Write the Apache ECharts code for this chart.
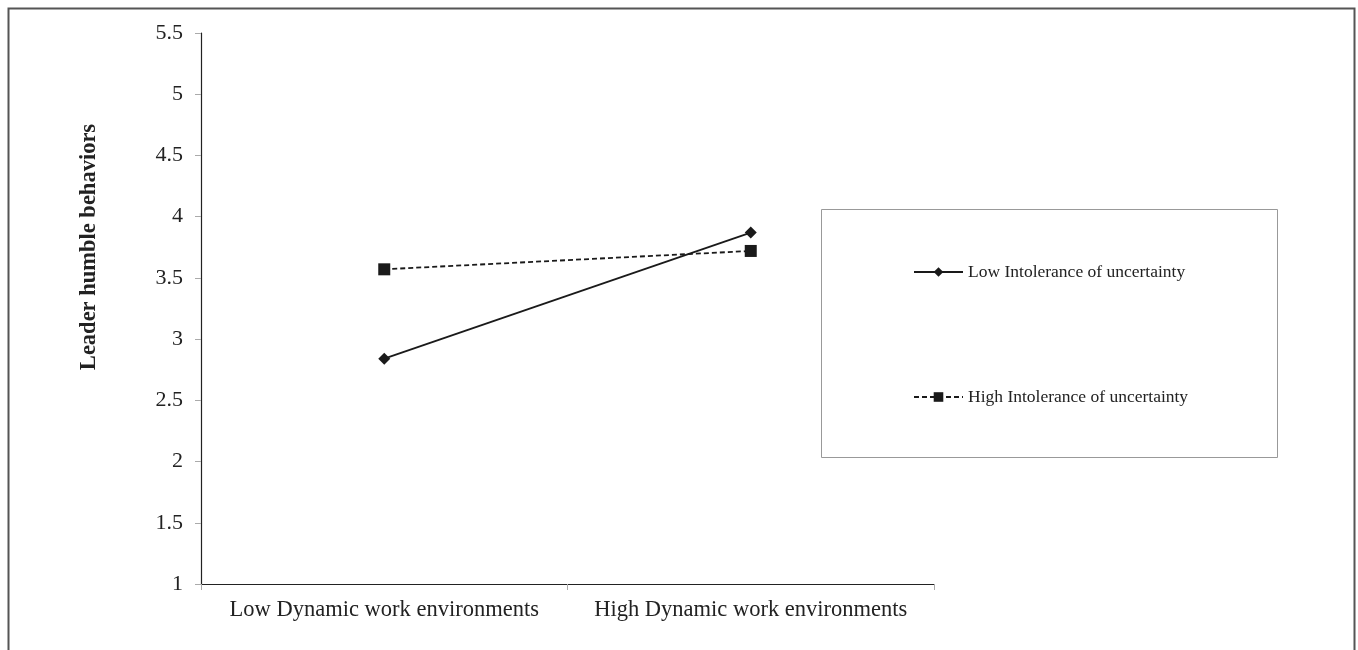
<!DOCTYPE html>
<html>
<head>
<meta charset="utf-8">
<script src="https://cdn.jsdelivr.net/npm/echarts@6/dist/echarts.min.js"></script>
<style>
html,body{margin:0;padding:0;background:#fff;}
#main{width:1358px;height:650px;}
</style>
</head>
<body>
<div id="main"></div>
<script>
const categories = ['Low Dynamic work environments', 'High Dynamic work environments'];
const seriesNames = ['Low Intolerance of uncertainty', 'High Intolerance of uncertainty'];
const lowIU = [2.84, 3.87];
const highIU = [3.57, 3.72];
const yTicks = [1, 1.5, 2, 2.5, 3, 3.5, 4, 4.5, 5, 5.5];
const yTitle = 'Leader humble behaviors';

const font = '"Liberation Serif", "DejaVu Serif", serif';
const chart = echarts.init(document.getElementById('main'));
chart.setOption({
  backgroundColor: '#fff',
  animation: false,
  grid: { left: 201, right: 424, top: 33, bottom: 66, containLabel: false },
  xAxis: {
    type: 'category',
    data: categories,
    boundaryGap: true,
    axisLine: { lineStyle: { color: '#222', width: 1.2 } },
    axisTick: { show: true, length: 6, interval: 0, lineStyle: { color: '#aaa' } },
    axisLabel: { color: '#222', fontFamily: font, fontSize: 22.5, margin: 15, interval: 0, hideOverlap: false },
    splitLine: { show: false }
  },
  yAxis: {
    type: 'value',
    min: 1, max: 5.5, interval: 0.5,
    axisLine: { show: true, lineStyle: { color: '#222', width: 1.2 } },
    axisTick: { show: true, length: 6, lineStyle: { color: '#aaa' } },
    axisLabel: {
      color: '#222', fontFamily: font, fontSize: 22, margin: 18,
      formatter: v => { const t = yTicks.find(x => Math.abs(x - v) < 1e-9); return t === undefined ? '' : String(t); }
    },
    splitLine: { show: false }
  },
  legend: {
    orient: 'vertical',
    left: 913, top: 263, padding: 0,
    itemWidth: 49, itemHeight: 12,
    itemGap: 107,
    textStyle: { color: '#222', fontFamily: font, fontSize: 17.5 },
    data: seriesNames
  },
  graphic: [
    { type: 'rect', shape: { x: 8.5, y: 8.5, width: 1346, height: 700 }, style: { fill: 'none', stroke: '#555', lineWidth: 2 }, silent: true, z: -10 },
    { type: 'rect', shape: { x: 821.5, y: 209.5, width: 456, height: 248 }, style: { fill: 'none', stroke: '#999', lineWidth: 1 }, silent: true },
    { type: 'text', x: 89, y: 247, rotation: Math.PI / 2,
      style: { text: yTitle, font: 'bold 22.5px "Liberation Serif", serif', fill: '#222', textAlign: 'center', textVerticalAlign: 'middle' } }
  ],
  series: [
    {
      name: seriesNames[0], type: 'line', data: lowIU,
      symbol: 'diamond', symbolSize: 12,
      itemStyle: { color: '#1a1a1a' },
      lineStyle: { color: '#1a1a1a', width: 1.8, type: 'solid' }
    },
    {
      name: seriesNames[1], type: 'line', data: highIU,
      symbol: 'rect', symbolSize: 12,
      itemStyle: { color: '#1a1a1a' },
      lineStyle: { color: '#1a1a1a', width: 1.8, type: [5, 3] }
    }
  ]
});
</script>
</body>
</html>
